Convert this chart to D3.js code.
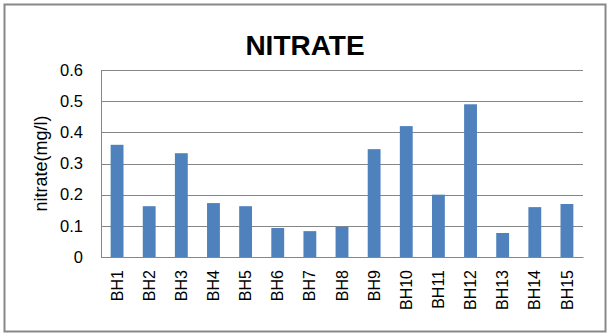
<!DOCTYPE html>
<html>
<head>
<meta charset="utf-8">
<script src="https://cdn.jsdelivr.net/npm/d3@7"></script>
<style>
  body { margin: 0; background: #fff; }
  text { font-family: "Liberation Sans", Arial, sans-serif; }
</style>
</head>
<body>
<svg id="chart" width="612" height="336"></svg>
<script>
// borehole names and nitrate values
const boreholes = ["BH1", "BH2", "BH3", "BH4", "BH5", "BH6", "BH7", "BH8",
  "BH9", "BH10", "BH11", "BH12", "BH13", "BH14", "BH15"];
const nitrate = [0.36, 0.163, 0.333, 0.173, 0.163, 0.093, 0.083, 0.097,
  0.346, 0.42, 0.2, 0.49, 0.077, 0.16, 0.17];
const yTicks = [0, 0.1, 0.2, 0.3, 0.4, 0.5, 0.6];

const svg = d3.select("#chart");
const margin = {top: 70, right: 29, bottom: 79, left: 101};
const width = 612 - margin.left - margin.right;
const height = 336 - margin.top - margin.bottom;

// outer frame
svg.append("rect")
  .attr("x", 4.5).attr("y", 4.5)
  .attr("width", 601).attr("height", 327)
  .attr("fill", "#fff")
  .attr("stroke", "#888").attr("stroke-width", 2);

const x = d3.scaleBand().domain(boreholes).range([0, width]).paddingInner(0.6).paddingOuter(0.3);
const y = d3.scaleLinear().domain([0, 0.6]).range([height, 0]);

const g = svg.append("g").attr("transform", `translate(${margin.left},${margin.top})`);

// gridlines
g.selectAll(".grid").data(yTicks).join("line")
  .attr("x1", 0).attr("x2", width)
  .attr("y1", d => Math.round(y(d)) + 0.5).attr("y2", d => Math.round(y(d)) + 0.5)
  .attr("stroke", "#868686");

// y axis
const yAxis = g.append("g")
  .call(d3.axisLeft(y).tickValues(yTicks).tickSize(0).tickPadding(18).tickFormat(d => d === 0 ? "0" : d3.format(".1f")(d)));
yAxis.select(".domain").attr("stroke", "#868686");
yAxis.selectAll("text").attr("font-size", 16.5).attr("fill", "#000");

// bars
g.selectAll(".bar").data(boreholes).join("rect")
  .attr("x", d => x(d))
  .attr("width", x.bandwidth())
  .attr("y", (d, i) => y(nitrate[i]))
  .attr("height", (d, i) => height - y(nitrate[i]))
  .attr("fill", "#4F81BD");

// x axis
const xAxis = g.append("g")
  .attr("transform", `translate(0,${height})`)
  .call(d3.axisBottom(x).tickSize(0).tickPadding(0));
xAxis.select(".domain").attr("stroke", "#868686");
xAxis.selectAll("text")
  .attr("font-size", 16).attr("fill", "#000")
  .attr("text-anchor", "end")
  .attr("transform", "rotate(-90)")
  .attr("x", -13).attr("y", 0).attr("dy", "0.35em");

// title
svg.append("text")
  .attr("x", 305).attr("y", 55)
  .attr("text-anchor", "middle")
  .attr("font-size", 28).attr("font-weight", "bold")
  .text("NITRATE");

// y axis title
svg.append("text")
  .attr("transform", `translate(47,${margin.top + height / 2}) rotate(-90)`)
  .attr("text-anchor", "middle")
  .attr("font-size", 18)
  .text("nitrate(mg/l)");
</script>
</body>
</html>
